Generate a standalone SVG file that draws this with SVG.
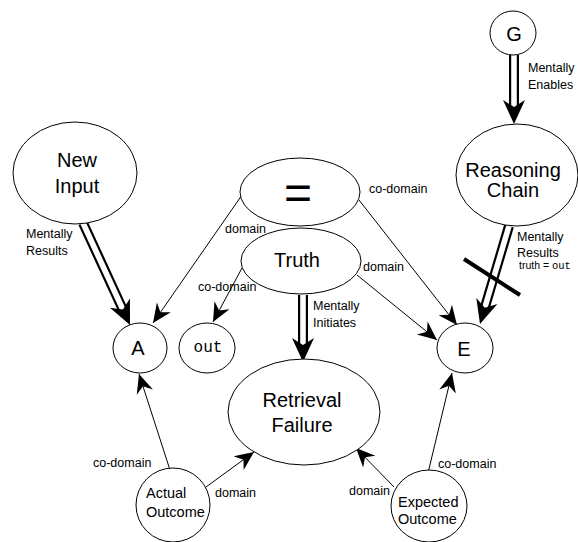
<svg xmlns="http://www.w3.org/2000/svg" width="578" height="542" viewBox="0 0 578 542">
<style>
.node ellipse{fill:#fff;stroke:#000;stroke-width:1}
.nt{font-family:"Liberation Sans",Arial,sans-serif;font-size:20px;fill:#000;text-anchor:middle}
.st{font-family:"Liberation Sans",Arial,sans-serif;font-size:14.5px;fill:#000}
.lb{font-family:"Liberation Sans",Arial,sans-serif;font-size:12.5px;fill:#000}
.mono{font-family:"Liberation Mono","Courier New",monospace}
.edge{fill:none;stroke:#000;stroke-width:1}
.dout{fill:none;stroke:#000;stroke-width:10}
.din{fill:none;stroke:#fff;stroke-width:5.6}
.head{fill:#000;stroke:none}
</style>
<defs>
<marker id="ah" markerUnits="userSpaceOnUse" viewBox="-20 -10 21 20" refX="0" refY="0" markerWidth="21" markerHeight="20" orient="auto">
<path d="M0,0 L-19,-8.5 L-13,0 L-19,8.5 Z" fill="#000"/>
</marker>
</defs>
<g id="connectors">
<path class="edge" d="M242,195 L153,323" marker-end="url(#ah)"/>
<path class="edge" d="M242,268 L213,322" marker-end="url(#ah)"/>
<path class="edge" d="M359,200 L457,325" marker-end="url(#ah)"/>
<path class="edge" d="M357,275 L437,340" marker-end="url(#ah)"/>
<path class="edge" d="M170,470 L139,374" marker-end="url(#ah)"/>
<path class="edge" d="M206,487 L254,452" marker-end="url(#ah)"/>
<path class="edge" d="M394,487 L356,448" marker-end="url(#ah)"/>
<path class="edge" d="M428,473 L452,373" marker-end="url(#ah)"/>
<g id="g-enables">
<path class="dout" d="M514,55 L514,108"/>
<path class="din" d="M514,55 L514,108"/>
<polygon class="head" points="514,124 503,100 514,107 525,100"/>
</g>
<g id="newinput-results">
<path class="dout" d="M83,223 L123.3,310.5"/>
<path class="din" d="M83,223 L123.3,310.5"/>
<polygon class="head" points="130,325 109.9,307.8 122.9,309.6 129.9,298.6"/>
</g>
<g id="truth-initiates">
<path class="dout" d="M303,295 L303,346"/>
<path class="din" d="M303,295 L303,346"/>
<polygon class="head" points="303,362 292,338 303,345 314,338"/>
</g>
<g id="reasoning-results">
<path class="dout" d="M509,226 L484.5,308.7"/>
<path class="din" d="M509,226 L484.5,308.7"/>
<polygon class="head" points="480,324 476.3,297.9 484.8,307.7 497.4,304.1"/>
<path d="M464,259 L520,295" stroke="#000" stroke-width="4" fill="none"/>
</g>
<text class="lb" x="528" y="72">Mentally</text>
<text class="lb" x="528" y="89">Enables</text>
<text class="lb" x="26" y="238">Mentally</text>
<text class="lb" x="26" y="255">Results</text>
<text class="lb" x="225" y="233">domain</text>
<text class="lb" x="198" y="291">co-domain</text>
<text class="lb" x="369" y="193">co-domain</text>
<text class="lb" x="363" y="271">domain</text>
<text class="lb" x="313" y="310">Mentally</text>
<text class="lb" x="313" y="327">Initiates</text>
<text class="lb" x="517" y="241">Mentally</text>
<text class="lb" x="517" y="257">Results</text>
<text class="lb" x="519" y="269" style="font-size:10.5px">truth = <tspan class="mono">out</tspan></text>
<text class="lb" x="93" y="467">co-domain</text>
<text class="lb" x="215" y="497">domain</text>
<text class="lb" x="349" y="495">domain</text>
<text class="lb" x="438" y="468">co-domain</text>
</g>
<g id="n-newinput" class="node"><ellipse cx="75" cy="173" rx="62" ry="51"/><text class="nt" x="77" y="167">New</text><text class="nt" x="77" y="193">Input</text></g>
<g id="n-equals" class="node"><ellipse cx="300" cy="192" rx="60" ry="34"/><text class="nt" x="298" y="209" style="font-size:48px">=</text></g>
<g id="n-truth" class="node"><ellipse cx="301" cy="261" rx="60" ry="33"/><text class="nt" x="297" y="267">Truth</text></g>
<g id="n-g" class="node"><ellipse cx="513" cy="33" rx="23" ry="22"/><text class="nt" x="514" y="41">G</text></g>
<g id="n-reasoning" class="node"><ellipse cx="517" cy="175" rx="61" ry="51"/><text class="nt" x="513" y="177">Reasoning</text><text class="nt" x="513" y="197">Chain</text></g>
<g id="n-a" class="node"><ellipse cx="140" cy="348" rx="27" ry="25"/><text class="nt" x="138" y="355">A</text></g>
<g id="n-out" class="node"><ellipse cx="207" cy="348" rx="28" ry="25"/><text class="nt mono" x="208" y="352" style="font-size:16px">out</text></g>
<g id="n-e" class="node"><ellipse cx="465" cy="348" rx="28" ry="25"/><text class="nt" x="464" y="356">E</text></g>
<g id="n-retrieval" class="node"><ellipse cx="304" cy="412" rx="76" ry="53"/><text class="nt" x="302" y="407">Retrieval</text><text class="nt" x="302" y="432">Failure</text></g>
<g id="n-actual" class="node"><ellipse cx="173" cy="505" rx="37" ry="37"/><text class="st" x="146" y="498">Actual</text><text class="st" x="146" y="517">Outcome</text></g>
<g id="n-expected" class="node"><ellipse cx="429" cy="506" rx="38" ry="36"/><text class="st" x="398" y="507">Expected</text><text class="st" x="398" y="524">Outcome</text></g>
</svg>
